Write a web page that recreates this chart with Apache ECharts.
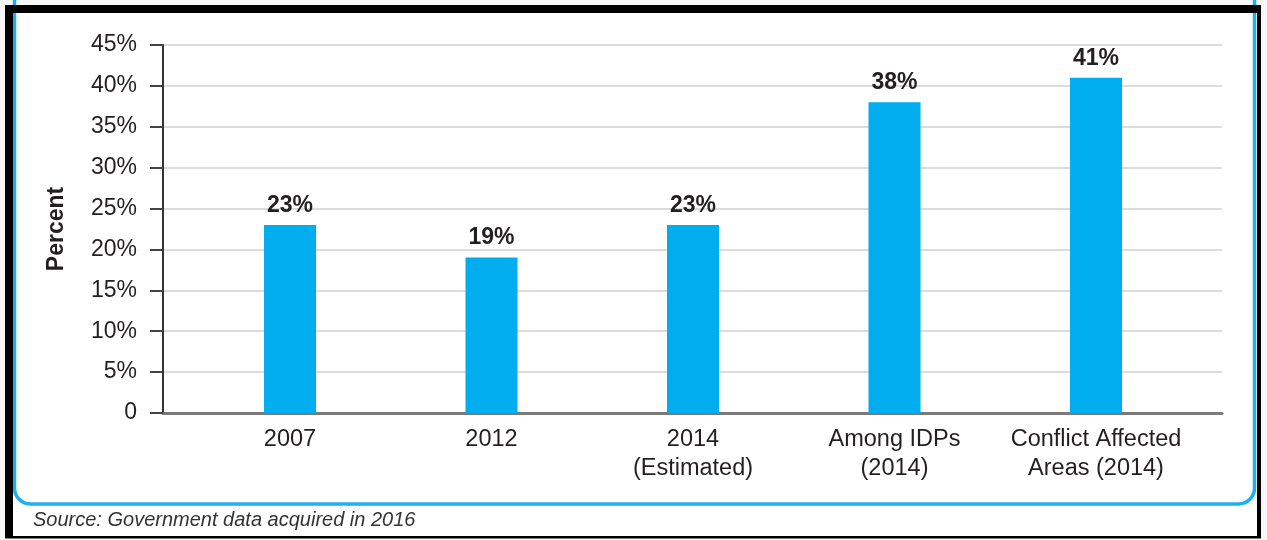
<!DOCTYPE html>
<html>
<head>
<meta charset="utf-8">
<script src="https://cdn.jsdelivr.net/npm/echarts@6/dist/echarts.min.js"></script>
<style>
html,body{margin:0;padding:0;background:#f7f7f7;}
#c{width:1267px;height:540px;}
</style>
</head>
<body>
<div id="c"></div>
<script>
const categories = ['2007', '2012', '2014\n(Estimated)', 'Among IDPs\n(2014)', 'Conflict Affected\nAreas (2014)'];
const values = [23, 19, 23, 38, 41];
const yTicks = [0, 5, 10, 15, 20, 25, 30, 35, 40, 45];
const yAxisName = 'Percent';
const sourceNote = 'Source: Government data acquired in 2016';

const FONT = '"Liberation Sans", Arial, sans-serif';
const TXT = '#231f20';
const chart = echarts.init(document.getElementById('c'), null, {renderer: 'canvas'});

const gridTop = 45, gridH = 368;

chart.setOption({
  backgroundColor: '#ffffff',
  animation: false,
  textStyle: {fontFamily: FONT},
  grid: [
    {left: 163, right: 45, top: gridTop, height: gridH},
    {left: 189.25, width: 1007.5, top: gridTop, height: gridH}
  ],
  xAxis: [
    {
      gridIndex: 0, type: 'category', data: [''],
      axisLine: {show: true, lineStyle: {color: '#7a7a7a', width: 3}},
      axisTick: {show: false}, axisLabel: {show: false}, splitLine: {show: false}
    },
    {
      gridIndex: 1, type: 'category', data: categories,
      axisLine: {show: false}, axisTick: {show: false},
      axisLabel: {
        interval: 0, margin: 12, color: TXT, fontFamily: FONT, fontSize: 23.5, lineHeight: 29
      }
    }
  ],
  yAxis: [
    {
      gridIndex: 0, type: 'value', min: yTicks[0], max: yTicks[yTicks.length - 1], interval: 5,
      name: yAxisName, nameLocation: 'middle', nameRotate: 90, nameGap: 95,
      nameTextStyle: {color: TXT, fontFamily: FONT, fontSize: 23, fontWeight: 'bold'},
      axisLine: {show: true, lineStyle: {color: '#333333', width: 2}},
      axisTick: {show: true, length: 13, lineStyle: {color: '#444444', width: 2}},
      axisLabel: {
        margin: 26, color: TXT, fontFamily: FONT, fontSize: 23,
        formatter: v => v === 0 ? '0' : v + '%'
      },
      splitLine: {show: true, lineStyle: {color: '#dcdcdc', width: 2}}
    },
    {
      gridIndex: 1, type: 'value', min: yTicks[0], max: yTicks[yTicks.length - 1], interval: 5,
      show: false, splitLine: {show: false}
    }
  ],
  series: [{
    type: 'bar', xAxisIndex: 1, yAxisIndex: 1,
    data: values, barWidth: 52,
    itemStyle: {color: '#00aeef'},
    z: 1,
    label: {
      show: true, position: 'top', distance: 8,
      formatter: p => p.value + '%',
      color: TXT, fontFamily: FONT, fontSize: 23, fontWeight: 'bold'
    }
  }],
  graphic: [
    {type: 'rect', z: 100, silent: true,
     shape: {x: 14.5, y: -30, width: 1240, height: 534, r: 16},
     style: {fill: null, stroke: '#1fb0ec', lineWidth: 3.5}},
    {type: 'rect', z: 101, silent: true, shape: {x: 5, y: 5, width: 1256, height: 8}, style: {fill: '#000'}},
    {type: 'rect', z: 101, silent: true, shape: {x: 5, y: 5, width: 8, height: 533}, style: {fill: '#000'}},
    {type: 'rect', z: 101, silent: true, shape: {x: 1257, y: 5, width: 4, height: 533}, style: {fill: '#000'}},
    {type: 'rect', z: 101, silent: true, shape: {x: 5, y: 536, width: 1256, height: 2.5}, style: {fill: '#000'}},
    {type: 'rect', z: -1, silent: true, shape: {x: 0, y: 0, width: 1267, height: 5}, style: {fill: '#f7f7f7'}},
    {type: 'rect', z: -1, silent: true, shape: {x: 0, y: 0, width: 5, height: 540}, style: {fill: '#f7f7f7'}},
    {type: 'rect', z: -1, silent: true, shape: {x: 1261, y: 0, width: 6, height: 540}, style: {fill: '#f7f7f7'}},
    {type: 'text', z: 102, silent: true, left: 33, top: 510,
     style: {text: sourceNote, fill: '#333333', font: 'italic 20px ' + FONT}}
  ]
});
</script>
</body>
</html>
